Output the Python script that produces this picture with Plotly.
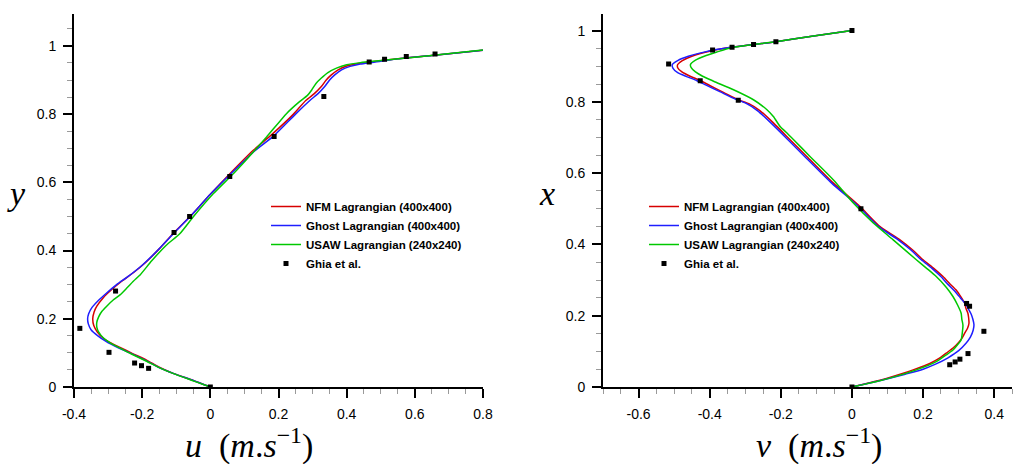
import plotly.graph_objects as go

# ---------------- data: left panel (u along vertical centreline) ----------------
nfm_u_y = [0, 0.019, 0.04, 0.058, 0.079, 0.098, 0.116, 0.131, 0.143, 0.162, 0.18, 0.20, 0.22, 0.237,
           0.262, 0.285, 0.31, 0.335, 0.365, 0.405, 0.45, 0.499, 0.565, 0.626, 0.694, 0.74, 0.80,
           0.84, 0.86, 0.88, 0.90, 0.915, 0.93, 0.941, 0.948, 0.953, 0.962, 0.972, 0.987]
nfm_u = [0, -0.05, -0.109, -0.15, -0.187, -0.228, -0.265, -0.295, -0.314, -0.332, -0.342, -0.345, -0.341, -0.333,
         -0.314, -0.29, -0.26, -0.226, -0.19, -0.15, -0.109, -0.06, 0.0, 0.058, 0.126, 0.18, 0.244,
         0.28, 0.305, 0.325, 0.34, 0.355, 0.375, 0.40, 0.43, 0.47, 0.55, 0.65, 0.80]

ghost_u_y = [0, 0.019, 0.04, 0.057, 0.078, 0.097, 0.115, 0.133, 0.15, 0.168, 0.185, 0.20, 0.215, 0.232,
             0.252, 0.275, 0.30, 0.325, 0.357, 0.40, 0.448, 0.499, 0.565, 0.625, 0.692, 0.737, 0.80,
             0.84, 0.86, 0.88, 0.90, 0.915, 0.93, 0.94, 0.947, 0.952, 0.962, 0.972, 0.987]
ghost_u = [0, -0.05, -0.109, -0.15, -0.19, -0.23, -0.27, -0.305, -0.33, -0.35, -0.358, -0.36, -0.357, -0.348,
           -0.33, -0.305, -0.275, -0.24, -0.20, -0.155, -0.11, -0.06, 0.0, 0.06, 0.13, 0.187, 0.25,
           0.292, 0.316, 0.335, 0.35, 0.365, 0.385, 0.41, 0.44, 0.48, 0.55, 0.65, 0.80]

usaw_u_y = [0, 0.018, 0.04, 0.057, 0.077, 0.096, 0.114, 0.13, 0.145, 0.16, 0.175, 0.19, 0.205, 0.222,
            0.237, 0.255, 0.27, 0.29, 0.31, 0.33, 0.37, 0.415, 0.45, 0.499, 0.567, 0.626, 0.668, 0.733,
            0.802, 0.835, 0.855, 0.87, 0.89, 0.905, 0.922, 0.935, 0.945, 0.951, 0.957, 0.967, 0.988]
usaw_u = [0, -0.05, -0.11, -0.15, -0.19, -0.23, -0.265, -0.295, -0.315, -0.327, -0.333, -0.333, -0.328, -0.318,
          -0.304, -0.285, -0.265, -0.245, -0.226, -0.205, -0.172, -0.13, -0.089, -0.05, 0.009, 0.068, 0.107, 0.165,
          0.224, 0.26, 0.285, 0.297, 0.31, 0.325, 0.345, 0.37, 0.40, 0.44, 0.50, 0.60, 0.80]

ghia_u_y = [0.9766, 0.9688, 0.9609, 0.9531, 0.8516, 0.7344, 0.6172, 0.5, 0.4531, 0.2813, 0.1719, 0.1016,
            0.0703, 0.0625, 0.0547, 0.0]
ghia_u = [0.65928, 0.57492, 0.51117, 0.46604, 0.33304, 0.18719, 0.05702, -0.06080, -0.10648, -0.27805,
          -0.38289, -0.29730, -0.22220, -0.20196, -0.18109, 0.0]

# ---------------- data: right panel (v along horizontal centreline) ----------------
nfm_v_x = [0, 0.012, 0.024, 0.037, 0.048, 0.066, 0.08, 0.095, 0.11, 0.123, 0.138, 0.151, 0.165, 0.179,
           0.195, 0.207, 0.222, 0.235, 0.255, 0.272, 0.29, 0.31, 0.333, 0.357, 0.385, 0.413, 0.45, 0.507,
           0.572, 0.647, 0.694, 0.741, 0.775, 0.795, 0.806, 0.826, 0.846, 0.86, 0.872, 0.884, 0.896,
           0.905, 0.915, 0.928, 0.942, 0.953, 0.962, 0.969, 0.985, 1.0]
nfm_v = [0, 0.05, 0.097, 0.14, 0.172, 0.219, 0.245, 0.265, 0.285, 0.298, 0.31, 0.317, 0.325, 0.329,
         0.328, 0.326, 0.32, 0.317, 0.305, 0.293, 0.275, 0.256, 0.23, 0.20, 0.17, 0.135, 0.079, 0.022,
         -0.052, -0.127, -0.174, -0.221, -0.258, -0.29, -0.32, -0.36, -0.40, -0.427, -0.455, -0.478, -0.49,
         -0.49, -0.478, -0.45, -0.40, -0.34, -0.27, -0.214, -0.108, 0]

ghost_v_x = [0, 0.011, 0.023, 0.036, 0.05, 0.064, 0.082, 0.102, 0.122, 0.14, 0.16, 0.175, 0.19, 0.205,
             0.22, 0.232, 0.25, 0.27, 0.288, 0.31, 0.333, 0.357, 0.385, 0.413, 0.45, 0.507, 0.572, 0.647,
             0.694, 0.741, 0.775, 0.797, 0.808, 0.828, 0.847, 0.86, 0.871, 0.882, 0.894, 0.905, 0.916,
             0.928, 0.941, 0.953, 0.962, 0.969, 0.985, 1.0]
ghost_v = [0, 0.05, 0.10, 0.15, 0.20, 0.235, 0.27, 0.30, 0.32, 0.333, 0.341, 0.343, 0.34, 0.335,
           0.327, 0.32, 0.305, 0.288, 0.27, 0.25, 0.225, 0.195, 0.165, 0.13, 0.075, 0.018, -0.057, -0.133,
           -0.18, -0.228, -0.265, -0.30, -0.328, -0.37, -0.41, -0.437, -0.465, -0.49, -0.503, -0.505, -0.49,
           -0.46, -0.41, -0.34, -0.27, -0.214, -0.108, 0]

usaw_v_x = [0, 0.02, 0.048, 0.071, 0.09, 0.104, 0.12, 0.132, 0.15, 0.174, 0.19, 0.207, 0.23, 0.254,
            0.28, 0.31, 0.333, 0.357, 0.413, 0.46, 0.516, 0.581, 0.647, 0.694, 0.715, 0.731, 0.759, 0.778,
            0.806, 0.834, 0.858, 0.872, 0.884, 0.896, 0.905, 0.917, 0.93, 0.94, 0.952, 0.961, 0.969,
            0.985, 1.0]
usaw_v = [0, 0.088, 0.181, 0.237, 0.265, 0.284, 0.298, 0.307, 0.31, 0.312, 0.309, 0.307, 0.297, 0.284,
          0.265, 0.237, 0.21, 0.181, 0.116, 0.06, 0.004, -0.052, -0.118, -0.164, -0.185, -0.202, -0.221, -0.239,
          -0.277, -0.333, -0.389, -0.42, -0.44, -0.452, -0.454, -0.44, -0.41, -0.38, -0.34, -0.277, -0.214,
          -0.108, 0]

ghia_v_x = [1.0, 0.9688, 0.9609, 0.9531, 0.9453, 0.9063, 0.8594, 0.8047, 0.5, 0.2344, 0.2266, 0.1563,
            0.0938, 0.0781, 0.0703, 0.0625, 0.0]
ghia_v = [0.0, -0.21388, -0.27669, -0.33714, -0.39188, -0.51550, -0.42665, -0.31966, 0.02526, 0.32235,
          0.33075, 0.37095, 0.32627, 0.30353, 0.29012, 0.27485, 0.0]

series_names = ["NFM Lagrangian (400x400)", "Ghost Lagrangian (400x400)",
                "USAW Lagrangian (240x240)", "Ghia et al."]
colors = ["rgb(215,0,0)", "rgb(30,30,255)", "rgb(0,200,0)", "black"]

left_x_ticks = [-0.4, -0.2, 0, 0.2, 0.4, 0.6, 0.8]
left_x_text = ["-0.4", "-0.2", "0", "0.2", "0.4", "0.6", "0.8"]
right_x_ticks = [-0.6, -0.4, -0.2, 0, 0.2, 0.4]
right_x_text = ["-0.6", "-0.4", "-0.2", "0", "0.2", "0.4"]
y_ticks = [0, 0.2, 0.4, 0.6, 0.8, 1.0]
y_text = ["0", "0.2", "0.4", "0.6", "0.8", "1"]

W, H = 1014, 464
fig = go.Figure()

panels = [
    ("x", "y", "legend", [(nfm_u, nfm_u_y), (ghost_u, ghost_u_y), (usaw_u, usaw_u_y)], (ghia_u, ghia_u_y)),
    ("x2", "y2", "legend2", [(nfm_v, nfm_v_x), (ghost_v, ghost_v_x), (usaw_v, usaw_v_x)], (ghia_v, ghia_v_x)),
]
for xa, ya, lg, curves, pts in panels:
    for i, (cx, cy) in enumerate(curves):
        fig.add_trace(go.Scatter(x=cx, y=cy, mode="lines", name=series_names[i],
                                 line=dict(color=colors[i], width=1.5, shape="spline", smoothing=0.6),
                                 xaxis=xa, yaxis=ya, legend=lg))
    fig.add_trace(go.Scatter(x=pts[0], y=pts[1], mode="markers", name=series_names[3],
                             marker=dict(symbol="square", size=5, color="black"),
                             xaxis=xa, yaxis=ya, legend=lg))

axis_common = dict(showline=True, linewidth=2, linecolor="black", mirror=False, automargin=False,
                   ticks="outside", ticklen=9, tickwidth=2, tickcolor="black",
                   showgrid=False, zeroline=False, tickmode="array",
                   ticklabelstandoff=4,
                   tickfont=dict(family="Liberation Sans, Arial", size=14, color="black"),
                   minor=dict(tickmode="linear", tick0=0, dtick=0.05, ticks="outside", ticklen=5,
                              tickwidth=1, tickcolor="#9a9a9a", showgrid=False))

ybot = 1 - 387 / H
ytop = 1 - 13.5 / H
fig.update_layout(
    template="none",
    width=W, height=H, margin=dict(l=0, r=0, t=0, b=0, autoexpand=False),
    paper_bgcolor="white", plot_bgcolor="white",
    xaxis=dict(domain=[74 / W, 483 / W], range=[-0.4, 0.8], tickvals=left_x_ticks, ticktext=left_x_text,
               anchor="y", **axis_common),
    yaxis=dict(domain=[ybot, ytop], range=[0, 1.095], tickvals=y_ticks, ticktext=y_text,
               anchor="x", **axis_common),
    xaxis2=dict(domain=[603 / W, 1012 / W], range=[-0.7, 0.45], tickvals=right_x_ticks, ticktext=right_x_text,
                anchor="y2", **axis_common),
    yaxis2=dict(domain=[ybot, ytop], range=[0, 1.048], tickvals=y_ticks, ticktext=y_text,
                anchor="x2", **axis_common),
    legend=dict(x=266 / W, y=1 - 235 / H, xanchor="left", yanchor="middle", bgcolor="rgba(0,0,0,0)",
                borderwidth=0,
                font=dict(family="Liberation Sans, Arial", size=11.5, color="black", weight="bold")),
    legend2=dict(x=644 / W, y=1 - 235 / H, xanchor="left", yanchor="middle", bgcolor="rgba(0,0,0,0)",
                 borderwidth=0,
                 font=dict(family="Liberation Sans, Arial", size=11.5, color="black", weight="bold")),
)

math_font = dict(family="Liberation Serif, Times New Roman, serif", size=34, color="black")
annos = [
    ("<i>u</i>  (<i>m</i>.<i>s</i><sup>−1</sup>)", 249, 443),
    ("<i>v</i>  (<i>m</i>.<i>s</i><sup>−1</sup>)", 819, 443),
    ("<i>y</i>", 16, 193),
    ("<i>x</i>", 547, 193),
]
for txt, px, py in annos:
    fig.add_annotation(text=txt, x=px / W, y=1 - py / H, xref="paper", yref="paper",
                       xanchor="center", yanchor="middle", showarrow=False, font=math_font)

fig.write_html("out.html", config={"displayModeBar": False},
               post_script="document.body.style.margin='0';document.body.style.overflow='hidden';")
